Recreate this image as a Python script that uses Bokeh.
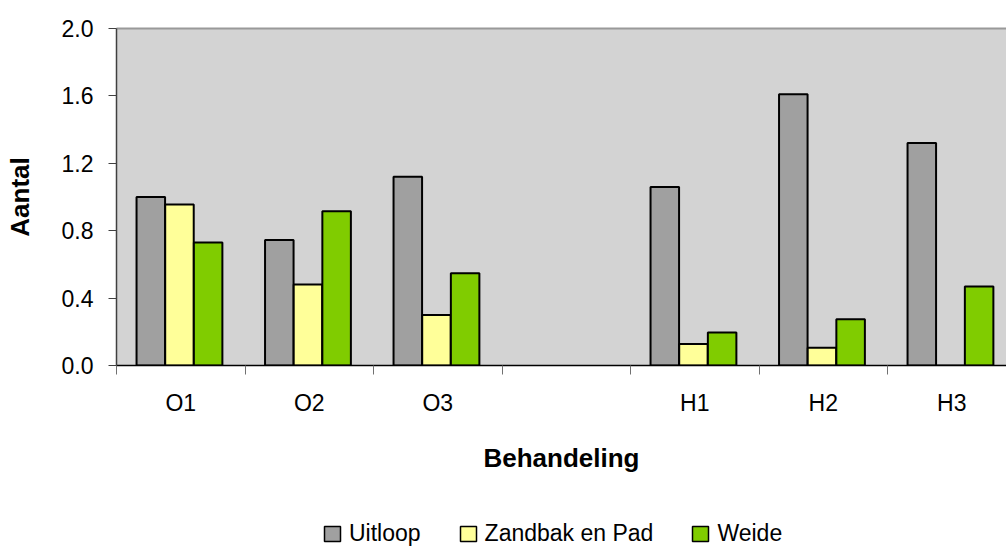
import numpy as np
from bokeh.plotting import figure
from bokeh.layouts import column
from bokeh.models import (Range1d, FixedTicker, LinearAxis, Legend, LegendItem,
                          ColumnDataSource, PrintfTickFormatter)
from bokeh.transform import dodge
from bokeh.embed import file_html
from bokeh.resources import INLINE

# ---- data ----
categories = ["O1", "O2", "O3", "", "H1", "H2", "H3"]
uitloop = [1.00, 0.745, 1.12, None, 1.06, 1.61, 1.32]
zandbak = [0.955, 0.48, 0.30, None, 0.128, 0.105, 0.0]
weide = [0.73, 0.915, 0.548, None, 0.196, 0.275, 0.469]
series_names = ["Uitloop", "Zandbak en Pad", "Weide"]
y_ticks = [0.0, 0.4, 0.8, 1.2, 1.6, 2.0]
x_title = "Behandeling"
y_title = "Aantal"

# ---- style ----
FONT = "Liberation Sans"
colors = ["#a0a0a0", "#ffff99", "#80cc00"]
offsets = [-0.233, -0.010, 0.213]
bar_w = 0.222

def nan(v):
    return [np.nan if x is None else x for x in v]

idx = list(range(len(categories)))
src = ColumnDataSource(dict(x=idx, u=nan(uitloop), z=nan(zandbak), w=nan(weide)))

p = figure(width=1006, height=490, output_backend="svg", toolbar_location=None,
           x_range=Range1d(-0.5, -0.5 + 890 / 128.5), y_range=Range1d(0, 2.0),
           min_border_left=116, min_border_right=0, min_border_top=28,
           min_border_bottom=125)
p.background_fill_color = "#d3d3d3"
p.border_fill_color = "white"
p.outline_line_color = None
p.xgrid.visible = False
p.ygrid.visible = False

for key, col, off in zip(["u", "z", "w"], colors, offsets):
    p.vbar(x=dodge("x", off), top=key, width=bar_w, bottom=0, source=src,
           fill_color=col, line_color="black", line_width=2)

# x axis: labels at category centres, tick marks at boundaries
xa = p.xaxis[0]
xa.ticker = FixedTicker(ticks=idx, minor_ticks=[i - 0.5 for i in idx])
xa.major_label_overrides = {i: c for i, c in zip(idx, categories)}
xa.major_tick_out = 0
xa.major_tick_in = 0
xa.minor_tick_out = 9
xa.minor_tick_in = 0
xa.minor_tick_line_color = "#707070"
xa.axis_line_color = "black"
xa.axis_line_width = 1.5
xa.major_label_text_font = FONT
xa.major_label_text_font_size = "23px"
xa.major_label_text_color = "black"
xa.major_label_standoff = 15
xa.axis_label = x_title
xa.axis_label_text_font = FONT
xa.axis_label_text_font_style = "bold"
xa.axis_label_text_font_size = "26px"
xa.axis_label_text_color = "black"
xa.axis_label_standoff = 24

ya = p.yaxis[0]
ya.ticker = FixedTicker(ticks=y_ticks, minor_ticks=[])
ya.formatter = PrintfTickFormatter(format="%.1f")
ya.major_tick_out = 8
ya.major_tick_in = 0
ya.major_tick_line_color = "#404040"
ya.axis_line_color = "#404040"
ya.axis_line_width = 1.5
ya.major_label_text_font = FONT
ya.major_label_text_font_size = "23px"
ya.major_label_text_color = "black"
ya.major_label_standoff = 15
ya.axis_label = y_title
ya.axis_label_text_font = FONT
ya.axis_label_text_font_style = "bold"
ya.axis_label_text_font_size = "26px"
ya.axis_label_text_color = "black"
ya.axis_label_standoff = 24

top = LinearAxis(ticker=FixedTicker(ticks=[]), major_label_text_font_size="0px",
                 axis_line_color="#999999", axis_line_width=2,
                 major_tick_out=0, minor_tick_out=0, major_label_standoff=0)
p.add_layout(top, "above")

# ---- legend strip (proxy glyphs carry no visible data) ----
q = figure(width=1006, height=56, output_backend="svg", toolbar_location=None,
           x_range=Range1d(0, 1), y_range=Range1d(0, 1),
           x_axis_location=None, y_axis_location=None,
           min_border=0, min_border_left=0, min_border_right=0,
           min_border_top=0, min_border_bottom=0)
q.outline_line_color = None
q.background_fill_color = "white"
q.border_fill_color = "white"
q.grid.visible = False
proxies = [q.vbar(x=[np.nan], top=[np.nan], width=0.1, fill_color=c,
                  line_color="black", line_width=1.5)
           for c in colors]
legend = Legend(items=[LegendItem(label=n, renderers=[r]) for n, r in zip(series_names, proxies)],
                orientation="horizontal", location=(206, -1), padding=0, margin=0,
                spacing=37, label_standoff=7, glyph_width=20, glyph_height=19,
                label_text_font=FONT, label_text_font_size="23px", label_text_color="black",
                border_line_color=None, background_fill_alpha=0)
q.add_layout(legend, "center")

open("out.html", "w").write(file_html(column(p, q, spacing=0), INLINE))
